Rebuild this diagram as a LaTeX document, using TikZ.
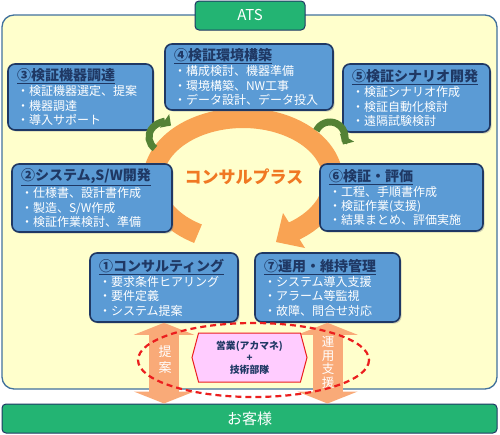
\documentclass[tikz,border=0pt]{standalone}
\usepackage{fontspec}
\setmainfont{Noto Sans CJK JP}
\usetikzlibrary{arrows.meta,shapes.symbols,shadows}
\definecolor{navyref}{RGB}{31,56,100}
\definecolor{azulfase}{RGB}{91,155,213}
\definecolor{amarelo}{RGB}{255,255,204}
\definecolor{bordaref}{RGB}{65,113,156}
\definecolor{verdeats}{RGB}{35,180,115}
\definecolor{laranja}{RGB}{249,163,83}
\definecolor{laranjatxt}{RGB}{240,120,35}
\definecolor{salmao}{RGB}{249,170,120}
\definecolor{verdegiro}{RGB}{84,130,53}
\definecolor{rosa}{RGB}{255,204,255}
\definecolor{vermelho}{RGB}{235,30,30}
\newcommand{\titfase}[1]{{\fontsize{14}{16}\selectfont\bfseries\color{navyref}\underline{#1}}}

\begin{document}
\begin{tikzpicture}[
	x=1pt, y=-1pt,
	font=\fontsize{12}{14.3}\selectfont,
	fase/.style={rectangle, rounded corners=7pt, draw=navyref, line width=1.6pt, fill=azulfase, text=white, align=left, inner xsep=9pt, inner ysep=3pt, drop shadow={shadow xshift=1.5pt, shadow yshift=-1.5pt, opacity=0.35}},
	faixa/.style={rectangle, rounded corners=4pt, draw=navyref, line width=1pt, fill=verdeats, text=white, font=\fontsize{15}{18}\selectfont},
	anel/.style={draw=laranja, line width=20pt},
	giro/.style={draw=verdegiro, line width=7pt, -{Triangle[length=8pt,width=16pt]}},
	duplaseta/.style={draw=salmao, line width=30pt, {Triangle[length=12pt,width=60pt]}-{Triangle[length=12pt,width=60pt]}},
	vtexto/.style={text=white, align=center, inner sep=0pt},
	hexa/.style={signal, signal to=east and west, signal pointer angle=150, draw=vermelho, line width=1pt, fill=rosa, minimum width=115, minimum height=49, inner sep=0pt, align=center, text=navyref, font=\bfseries\fontsize{9.8}{12}\selectfont},
	laco/.style={draw=vermelho, line width=2.2pt, dash pattern=on 6pt off 4pt},
]
\useasboundingbox (0,0) rectangle (500,434);

% area ATS
\draw[rounded corners=12pt, fill=amarelo, draw=bordaref, line width=1.3pt] (2,15) rectangle (497,389);

% ciclo laranja
\draw[anel] (198,233.7) arc[start angle=120, end angle=418, x radius=90, y radius=62];
\fill[laranja] (283,213) -- (276,242) -- (305,248) -- cycle;
\node[text=laranjatxt, font=\bfseries\fontsize{17}{20}\selectfont] (ciclo) at (244,177) {コンサルプラス};

% fases
\node[fase, minimum width=145, minimum height=66, text width=127] (fase3) at (80.5,97)
	{\titfase{③検証機器調達}\\[1pt]・検証機器選定、提案\\・機器調達\\・導入サポート};
\node[fase, minimum width=168, minimum height=66, text width=150] (fase4) at (249,77)
	{\titfase{④検証環境構築}\\[1pt]・構成検討、機器準備\\・環境構築、NW工事\\・データ設計、データ投入};
\node[fase, minimum width=147, minimum height=68, text width=129] (fase5) at (416.5,98)
	{\titfase{⑤検証シナリオ開発}\\[1pt]・検証シナリオ作成\\・検証自動化検討\\・遠隔試験検討};
\node[fase, minimum width=160, minimum height=68, text width=142] (fase2) at (92,198)
	{\titfase{②システム,S/W開発}\\[1pt]・仕様書、設計書作成\\・製造、S/W作成\\・検証作業検討、準備};
\node[fase, minimum width=163, minimum height=67, text width=145] (fase6) at (401.5,197.5)
	{\titfase{⑥検証・評価}\\[1pt]・工程、手順書作成\\・検証作業(支援)\\・結果まとめ、評価実施};
\node[fase, minimum width=148, minimum height=69, text width=130] (fase1) at (164,287.5)
	{\titfase{①コンサルティング}\\[1pt]・要求条件ヒアリング\\・要件定義\\・システム提案};
\node[fase, minimum width=145, minimum height=69, text width=127] (fase7) at (327.5,287.5)
	{\titfase{⑦運用・維持管理}\\[1pt]・システム導入支援\\・アラーム等監視\\・故障、問合せ対応};

% setas verdes
\draw[giro] (163,137) ++(125:14) arc[start angle=125, end angle=305, radius=14];
\draw[giro] (330,137) ++(205:15) arc[start angle=205, end angle=390, radius=15];

% topo e base
\node[faixa, minimum width=110, minimum height=29] (ats) at (250,15.5) {ATS};
\node[faixa, minimum width=495, minimum height=29] (kyaku) at (249.5,418.5) {お客様};

% apoio ao cliente
\draw[duplaseta] (fase1.south) -- (fase1.south |- kyaku.north);
\draw[duplaseta] (fase7.south) -- (fase7.south |- kyaku.north);
\node[vtexto, font=\fontsize{13}{16}\selectfont] (proposta) at (165,360) {提\\案};
\node[vtexto, font=\fontsize{12.5}{13.7}\selectfont] (suporte) at (328,362.5) {運\\用\\支\\援};
\node[hexa] (equipe) at (249.5,357.5) {営業(アカマネ)\\+\\技術部隊};
\draw[laco] (253.5,360) ellipse [x radius=115.5, y radius=37];
\end{tikzpicture}
\end{document}
